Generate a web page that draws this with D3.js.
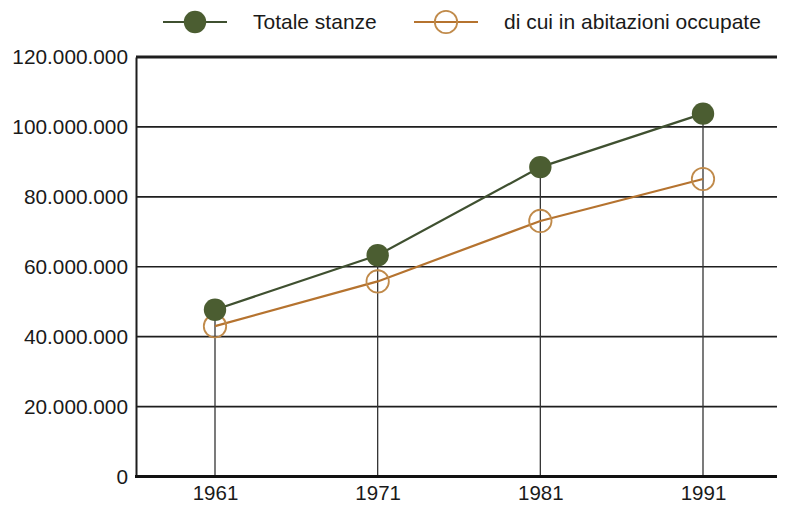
<!DOCTYPE html>
<meta charset="utf-8">
<style>
body { margin: 0; background: #fff; }
text { font-family: "Liberation Sans", Arial, sans-serif; fill: #1a1a1a; }
</style>
<svg width="786" height="508"></svg>
<script src="https://d3js.org/d3.v7.min.js"></script>
<script>

// census years and number of rooms
var years = [1961, 1971, 1981, 1991];
var totaleStanze = [47700000, 63300000, 88500000, 103800000];
var abitazioniOccupate = [43000000, 55800000, 73100000, 85100000];
var yTicks = [0, 20000000, 40000000, 60000000, 80000000, 100000000, 120000000];
var seriesNames = ["Totale stanze", "di cui in abitazioni occupate"];

var green_fill = "#4b5d31";
var green_line = "#3f5030";
var orange_line = "#b5732f";
var orange_ring = "#c08a4a";

var marker_r = 11.2;

var svg = d3.select("svg");

var plot_left = 136, plot_right = 777, plot_top = 57, plot_bottom = 476.5;

var x = d3.scaleLinear().domain([1961, 1991]).range([215, 703]);
var y = d3.scaleLinear().domain([0, 120000000]).range([plot_bottom, plot_top]);

// italian number format: 120.000.000
var it = d3.formatLocale({decimal: ",", thousands: ".", grouping: [3], currency: ["", " €"]});
var fmt = it.format(",d");

// horizontal grid lines
svg.append("g")
  .selectAll("line")
  .data(yTicks.filter(function(d) { return d > 0; }))
  .enter().append("line")
  .attr("x1", plot_left)
  .attr("x2", plot_right)
  .attr("y1", function(d) { return y(d); })
  .attr("y2", function(d) { return y(d); })
  .attr("stroke", "#1e1e1e")
  .attr("stroke-width", function(d) { return d == 120000000 ? 2.8 : 1.6; });

// y axis labels
var yAxis = svg.append("g")
  .attr("transform", "translate(" + plot_left + ",0)")
  .call(d3.axisLeft(y).tickValues(yTicks).tickFormat(fmt).tickSize(0).tickPadding(8));
yAxis.select(".domain").attr("stroke", "#1e1e1e").attr("stroke-width", 2);
yAxis.selectAll("text")
  .style("font-family", "'Liberation Sans', Arial, sans-serif")
  .style("font-size", "20.8px")
  .attr("fill", "#1a1a1a");

// drop lines from the top series down to the baseline
svg.append("g")
  .selectAll("line")
  .data(years)
  .enter().append("line")
  .attr("x1", function(d) { return x(d); })
  .attr("x2", function(d) { return x(d); })
  .attr("y1", function(d, i) { return y(totaleStanze[i]); })
  .attr("y2", plot_bottom)
  .attr("stroke", "#333")
  .attr("stroke-width", 1.3);

// x axis
var xAxis = svg.append("g")
  .attr("transform", "translate(0," + plot_bottom + ")")
  .call(d3.axisBottom(x).tickValues(years).tickFormat(d3.format("d")).tickSize(0).tickPadding(9));
xAxis.select(".domain").remove();
xAxis.selectAll("text")
  .style("font-family", "'Liberation Sans', Arial, sans-serif")
  .style("font-size", "20.5px")
  .attr("fill", "#1a1a1a");

svg.append("line")
  .attr("x1", plot_left - 1)
  .attr("x2", plot_right)
  .attr("y1", plot_bottom)
  .attr("y2", plot_bottom)
  .attr("stroke", "#111")
  .attr("stroke-width", 2.8);

// lines
var line = d3.line()
  .x(function(d) { return x(d.year); })
  .y(function(d) { return y(d.value); });

var green_data = years.map(function(d, i) { return {year: d, value: totaleStanze[i]}; });
var orange_data = years.map(function(d, i) { return {year: d, value: abitazioniOccupate[i]}; });

svg.append("path")
  .datum(orange_data)
  .attr("d", line)
  .attr("fill", "none")
  .attr("stroke", orange_line)
  .attr("stroke-width", 2.2);

svg.append("path")
  .datum(green_data)
  .attr("d", line)
  .attr("fill", "none")
  .attr("stroke", green_line)
  .attr("stroke-width", 2.2);

svg.append("g")
  .selectAll("circle")
  .data(orange_data)
  .enter().append("circle")
  .attr("cx", function(d) { return x(d.year); })
  .attr("cy", function(d) { return y(d.value); })
  .attr("r", marker_r)
  .attr("fill", "none")
  .attr("stroke", orange_ring)
  .attr("stroke-width", 1.8);

svg.append("g")
  .selectAll("circle")
  .data(green_data)
  .enter().append("circle")
  .attr("cx", function(d) { return x(d.year); })
  .attr("cy", function(d) { return y(d.value); })
  .attr("r", marker_r)
  .attr("fill", green_fill);

// legend
function legendItem(x0, name, lineColour, markerFill, markerStroke) {
  svg.append("line")
    .attr("x1", x0)
    .attr("x2", x0 + 64)
    .attr("y1", 22)
    .attr("y2", 22)
    .attr("stroke", lineColour)
    .attr("stroke-width", 2.2);
  svg.append("circle")
    .attr("cx", x0 + 32)
    .attr("cy", 22)
    .attr("r", marker_r)
    .attr("fill", markerFill)
    .attr("stroke", markerStroke)
    .attr("stroke-width", 1.8);
  svg.append("text")
    .attr("x", x0 + 90)
    .attr("y", 29)
    .style("font-size", "21px")
    .text(name);
}

legendItem(163, seriesNames[0], green_line, green_fill, "none");
legendItem(414, seriesNames[1], orange_line, "none", orange_ring);

</script>
